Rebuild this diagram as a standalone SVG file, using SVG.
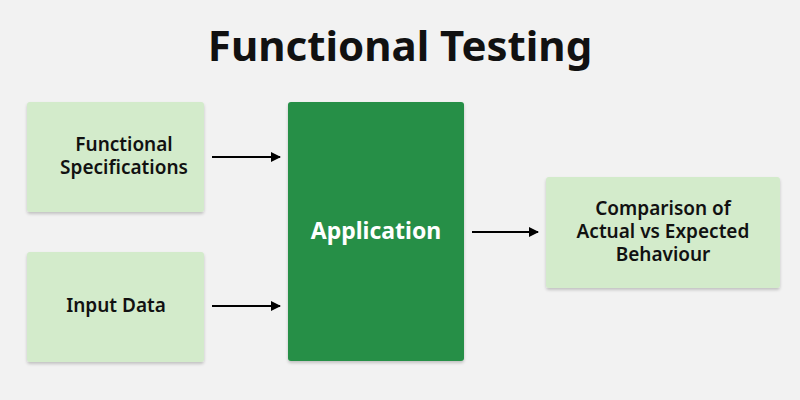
<svg xmlns="http://www.w3.org/2000/svg" width="800" height="400" viewBox="0 0 800 400">
<defs>
<filter id="sh" x="-10%" y="-10%" width="120%" height="130%"><feDropShadow dx="0" dy="2" stdDeviation="1.5" flood-color="#000" flood-opacity="0.2"/></filter>
<marker id="ar" markerWidth="10" markerHeight="10" refX="9" refY="5" orient="auto" markerUnits="userSpaceOnUse"><path d="M0,0 L10,5 L0,10 z" fill="#000"/></marker>
</defs>
<style>
.lt{fill:#d3ebcb;filter:url(#sh)}
.dk{fill:#258f47;filter:url(#sh)}
text{font-family:"Noto Sans","Open Sans",sans-serif;font-weight:600;text-anchor:middle;font-size:19px;fill:#111}
.c{stroke:#000;stroke-width:2;fill:none;marker-end:url(#ar)}
</style>
<rect width="800" height="400" fill="#f2f2f2"/>
<text x="400" y="61" style="font-size:42px;font-weight:700">Functional Testing</text>
<g id="spec"><rect class="lt" x="27" y="102" width="177" height="110" rx="3"/><text x="124" y="151">Functional</text><text x="124" y="174">Specifications</text></g>
<g id="input"><rect class="lt" x="27" y="252" width="177" height="110" rx="3"/><text x="116" y="312">Input Data</text></g>
<g id="app"><rect class="dk" x="288" y="102" width="176" height="259" rx="3"/><text x="376" y="239" style="fill:#fff;font-size:23px;font-weight:700">Application</text></g>
<g id="cmp"><rect class="lt" x="546" y="177" width="234" height="111" rx="3"/><text x="663" y="215">Comparison of</text><text x="663" y="238">Actual vs Expected</text><text x="663" y="261">Behaviour</text></g>
<g id="connectors">
<line class="c" x1="212" y1="157" x2="280" y2="157"/>
<line class="c" x1="212" y1="306" x2="280" y2="306"/>
<line class="c" x1="472" y1="232" x2="538" y2="232"/>
</g>
</svg>
